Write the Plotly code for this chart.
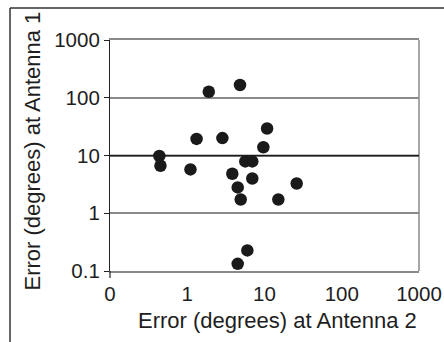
import plotly.graph_objects as go

# Data (log-log scatter)
antenna2_err = [0.435, 0.45, 1.1, 1.32, 1.9, 2.85, 4.82, 3.83, 4.5, 4.92,
                5.64, 6.95, 6.95, 9.66, 10.8, 15.1, 26.1, 6.0, 4.5]
antenna1_err = [9.8, 6.65, 5.75, 19.4, 127, 20, 166, 4.83, 2.8, 1.73,
                7.9, 7.9, 4.0, 13.9, 29.3, 1.73, 3.28, 0.227, 0.133]

x_tickvals = [0.1, 1, 10, 100, 1000]
x_ticktext = ["0", "1", "10", "100", "1000"]
y_tickvals = [0.1, 1, 10, 100, 1000]
y_ticktext = ["0.1", "1", "10", "100", "1000"]
highlight_y = 10

FONT = "Liberation Sans, Arial, sans-serif"
TXT = "#1e1e1e"

fig = go.Figure()
fig.add_trace(go.Scatter(
    x=antenna2_err, y=antenna1_err, mode="markers",
    marker=dict(size=12.5, color="#1a1a1a", line=dict(width=0)),
    showlegend=False, hoverinfo="x+y",
))

fig.update_layout(
    width=444, height=342,
    margin=dict(l=110, r=25, t=40, b=71),
    paper_bgcolor="white", plot_bgcolor="white",
    font=dict(family=FONT, size=20, color=TXT),
    xaxis=dict(
        type="log", range=[-1, 3], automargin=False,
        tickvals=x_tickvals, ticktext=x_ticktext,
        showgrid=False, zeroline=False,
        showline=True, linecolor="#8a8a8a", linewidth=1.5, mirror=True,
        ticks="", ticklabelstandoff=4,
        tickfont=dict(family=FONT, size=20.5, color=TXT),
    ),
    yaxis=dict(
        type="log", range=[-1, 3], automargin=False,
        tickvals=y_tickvals, ticktext=y_ticktext,
        showgrid=True, gridcolor="#8a8a8a", gridwidth=1.5,
        zeroline=False,
        showline=True, linecolor="#222", linewidth=1.2,
        ticks="outside", ticklen=5, tickcolor="#222", tickwidth=1.2,
        tickfont=dict(family=FONT, size=20.5, color=TXT),
    ),
    shapes=[
        # right border of plot area
        dict(type="line", xref="paper", yref="paper", x0=1, x1=1, y0=0, y1=1,
             line=dict(color="#8a8a8a", width=1.5)),
        # dark reference gridline at 10
        dict(type="line", xref="paper", yref="y", x0=0, x1=1,
             y0=highlight_y, y1=highlight_y, line=dict(color="#1a1a1a", width=1.5)),
        # y-axis line extension below the plot
        dict(type="line", xref="paper", yref="paper", x0=0, x1=0, y0=0, y1=-0.03,
             line=dict(color="#222", width=1.2)),
        # outer chart frame: left and top edges
        dict(type="line", xref="paper", yref="paper",
             x0=-0.3236, x1=-0.3236, y0=-0.4, y1=1.1385,
             line=dict(color="#333", width=1.5)),
        dict(type="line", xref="paper", yref="paper",
             x0=-0.3236, x1=1.2, y0=1.1385, y1=1.1385,
             line=dict(color="#333", width=1.5)),
    ],
    annotations=[
        dict(text="Error (degrees) at Antenna 2", xref="paper", yref="paper",
             x=(277.5 - 110) / 309, y=(271 - 306) / 231, xanchor="center", yanchor="top",
             showarrow=False, font=dict(family=FONT, size=22, color=TXT)),
        dict(text="Error (degrees) at Antenna 1", xref="paper", yref="paper",
             x=(32 - 110) / 309, y=(271 - 151.5) / 231, xanchor="center", yanchor="middle",
             textangle=-90, showarrow=False, font=dict(family=FONT, size=22, color=TXT)),
    ],
)

fig.write_html(
    "out.html",
    config={"displayModeBar": False},
    post_script="document.body.style.margin='0';document.body.style.overflow='hidden';",
)
